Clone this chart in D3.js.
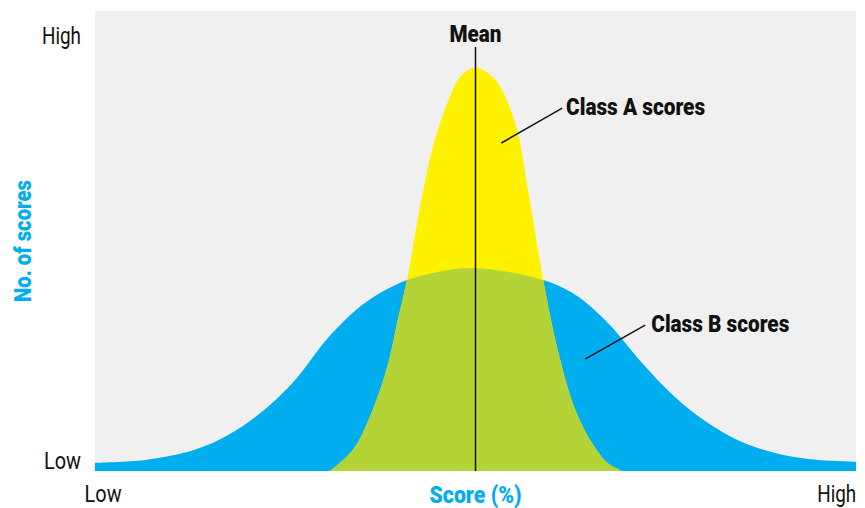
<!DOCTYPE html>
<html>
<head>
<meta charset="utf-8">
<script src="https://cdn.jsdelivr.net/npm/d3@7"></script>
<style>
  body { margin: 0; background: #fff; }
  svg text { font-family: "Roboto", "Liberation Sans", sans-serif; }
</style>
</head>
<body>
<div id="chart"></div>
<script>
// Courbe classe B (large) : score, nombre relatif
const classBScore = [0, 6.6, 13.1, 17.5, 21.9, 26.3, 30.6, 35.1, 39.4, 43.8, 50, 58.9, 63.1, 67.4, 71.9, 76.2, 80.6, 85.0, 89.4, 93.7, 100];
const classBCount = [1.8, 2.4, 4.6, 7.8, 12.8, 19.8, 28.9, 36.1, 40.4, 42.8, 44.1, 41.5, 38.3, 32.2, 23.5, 16.1, 10.4, 6.3, 3.9, 2.6, 2.0];

// Courbe classe A (étroite)
const classAScore = [30.9, 33.9, 36.1, 38.4, 39.7, 41.0, 42.7, 44.4, 46.3, 48.0, 50, 52.6, 55.2, 56.9, 58.9, 60.8, 63.1, 65.3, 67.4, 69.3];
const classACount = [0, 4.6, 11.7, 22.6, 32.2, 41.5, 57.4, 70.4, 80.0, 85.7, 87.7, 85.0, 75.7, 61.1, 41.5, 26.3, 13.3, 6.1, 1.7, 0];

const meanScore = 50;
const xTickValues = [1, 97.4];
const xTickLabels = ["Low", "High"];
const yTickValues = [2.2, 94.6];
const yTickLabels = ["Low", "High"];

const width = 865;
const height = 508;
const margin = { top: 11, right: 9, bottom: 37, left: 95 };

const svg = d3.select("#chart").append("svg")
  .attr("width", width)
  .attr("height", height);

const x = d3.scaleLinear().domain([0, 100]).range([margin.left, width - margin.right]);
const y = d3.scaleLinear().domain([0, 100]).range([height - margin.bottom, margin.top]);

// largeurs des textes condensés de la référence
const labelWidth = { "Low": 37, "High": 39, "Mean": 52, "Class A scores": 139, "Class B scores": 138, "Score (%)": 92, "No. of scores": 122 };
function condense(sel) {
  sel.each(function() {
    const t = d3.select(this).text();
    if (labelWidth[t]) d3.select(this).attr("textLength", labelWidth[t]).attr("lengthAdjust", "spacingAndGlyphs");
  });
}

// Fond gris
svg.append("rect")
  .attr("x", x(0)).attr("y", y(100))
  .attr("width", x(100) - x(0)).attr("height", y(0) - y(100))
  .attr("fill", "#f0f0f0");

const dataB = classBScore.map((s, i) => ({ s, c: classBCount[i] }));
const dataA = classAScore.map((s, i) => ({ s, c: classACount[i] }));

const area = d3.area()
  .x(d => x(d.s))
  .y0(y(0))
  .y1(d => y(d.c))
  .curve(d3.curveCatmullRom.alpha(0.5));

svg.append("clipPath").attr("id", "plot")
  .append("rect")
  .attr("x", x(0)).attr("y", y(100))
  .attr("width", x(100) - x(0)).attr("height", y(0) - y(100));

svg.append("clipPath").attr("id", "clipB")
  .append("path").attr("d", area(dataB));

const g = svg.append("g").attr("clip-path", "url(#plot)");
g.append("path").attr("d", area(dataB)).attr("fill", "#00aeef");
g.append("path").attr("d", area(dataA)).attr("fill", "#fff200");
// Zone de recouvrement
g.append("path").attr("d", area(dataA))
  .attr("fill", "#b4d336")
  .attr("clip-path", "url(#clipB)");

// Ligne de la moyenne
svg.append("line")
  .attr("x1", x(meanScore)).attr("x2", x(meanScore))
  .attr("y1", y(92.2)).attr("y2", y(0))
  .attr("stroke", "#111").attr("stroke-width", 1.5);

svg.append("text")
  .attr("x", x(meanScore)).attr("y", y(93.3))
  .attr("text-anchor", "middle")
  .attr("font-size", "24px").attr("font-weight", 900)
  .attr("fill", "#111")
  .text("Mean")
  .call(condense);

// Annotations
const notes = [
  { label: "Class A scores", x1: 61.4, y1: 78.9, x2: 53.4, y2: 71.3, tx: 61.9, ty: 77.4 },
  { label: "Class B scores", x1: 72.3, y1: 31.7, x2: 64.4, y2: 24.3, tx: 73.1, ty: 30.2 }
];
notes.forEach(n => {
  svg.append("line")
    .attr("x1", x(n.x1)).attr("y1", y(n.y1))
    .attr("x2", x(n.x2)).attr("y2", y(n.y2))
    .attr("stroke", "#111").attr("stroke-width", 1.5);
  svg.append("text")
    .attr("x", x(n.tx)).attr("y", y(n.ty))
    .attr("font-size", "24px").attr("font-weight", 900)
    .attr("fill", "#111")
    .text(n.label)
    .call(condense);
});

// Axes
const yAxis = svg.append("g")
  .attr("transform", `translate(${margin.left},0)`)
  .call(d3.axisLeft(y).tickValues(yTickValues).tickSize(0).tickPadding(14)
    .tickFormat((d, i) => yTickLabels[i]));

const xAxis = svg.append("g")
  .attr("transform", `translate(0,${y(0)})`)
  .call(d3.axisBottom(x).tickValues(xTickValues).tickSize(0).tickPadding(15)
    .tickFormat((d, i) => xTickLabels[i]));

[xAxis, yAxis].forEach(ax => {
  ax.select(".domain").remove();
  ax.selectAll("text")
    .attr("font-size", "23px")
    .attr("fill", "#111")
    .style("font-family", "Roboto, 'Liberation Sans', sans-serif")
    .call(condense);
});

// Titres des axes
svg.append("text")
  .attr("x", x(50)).attr("y", 503)
  .attr("text-anchor", "middle")
  .attr("font-size", "23px").attr("font-weight", 900)
  .attr("fill", "#00aeef")
  .text("Score (%)")
  .call(condense);

svg.append("text")
  .attr("transform", `translate(31,${(y(0) + y(100)) / 2}) rotate(-90)`)
  .attr("text-anchor", "middle")
  .attr("font-size", "24px").attr("font-weight", 900)
  .attr("fill", "#00aeef")
  .text("No. of scores")
  .call(condense);
</script>
</body>
</html>
